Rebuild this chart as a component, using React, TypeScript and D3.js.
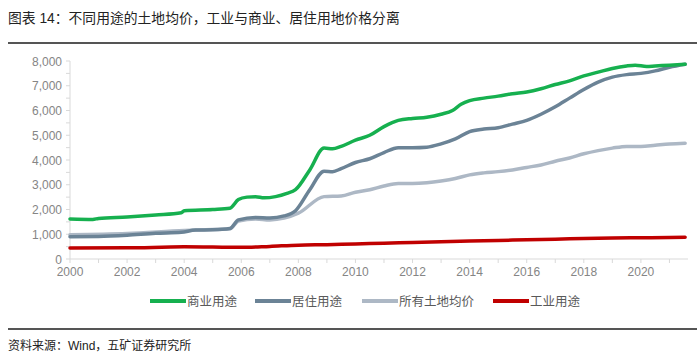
import React from "react";
import * as d3 from "d3";

// 单位：元/平方米，点为 [年份, 价格]
const commercial: [number, number][] = [
  [2000, 1620], [2000.8, 1600], [2001, 1640], [2002, 1700], [2003, 1780], [2003.9, 1870],
  [2004, 1950], [2005, 2000], [2005.6, 2050], [2005.9, 2400], [2006.2, 2500],
  [2006.5, 2520], [2006.8, 2470], [2007.2, 2520], [2007.6, 2650], [2007.9, 2800],
  [2008.4, 3600], [2008.9, 4480], [2009.2, 4450], [2009.5, 4550], [2010, 4800],
  [2010.5, 5000], [2011, 5350], [2011.5, 5600], [2012, 5680], [2012.5, 5730],
  [2013, 5850], [2013.4, 6000], [2013.7, 6250], [2014, 6400], [2014.5, 6500],
  [2015, 6580], [2015.5, 6680], [2016, 6750], [2016.5, 6880], [2017, 7050],
  [2017.5, 7200], [2018, 7400], [2018.5, 7550], [2019, 7700], [2019.5, 7800],
  [2019.8, 7830], [2020.2, 7780], [2020.5, 7800], [2021, 7830], [2021.55, 7870],
];

const residential: [number, number][] = [
  [2000, 900], [2001, 910], [2002, 960], [2003, 1040], [2003.9, 1080], [2004.4, 1170],
  [2005, 1180], [2005.6, 1230], [2005.9, 1580], [2006.5, 1680], [2007, 1660],
  [2007.5, 1740], [2007.9, 1950], [2008.4, 2800], [2008.9, 3550], [2009.2, 3530],
  [2009.5, 3650], [2010, 3900], [2010.5, 4050], [2011, 4300], [2011.5, 4500],
  [2012, 4500], [2012.5, 4520], [2013, 4650], [2013.5, 4850], [2014, 5150],
  [2014.5, 5250], [2015, 5300], [2015.5, 5450], [2016, 5600], [2016.5, 5850],
  [2017, 6150], [2017.5, 6500], [2018, 6850], [2018.5, 7150], [2019, 7350],
  [2019.5, 7450], [2020, 7500], [2020.5, 7600], [2021, 7750], [2021.55, 7870],
];

const allLand: [number, number][] = [
  [2000, 980], [2002, 1030], [2004, 1150], [2005, 1190], [2005.6, 1220],
  [2005.9, 1530], [2006.5, 1620], [2007, 1580], [2007.5, 1650], [2008, 1850],
  [2008.9, 2520], [2009.5, 2550], [2010, 2700], [2010.5, 2800], [2011, 2950],
  [2011.5, 3050], [2012, 3050], [2012.5, 3080], [2013, 3150], [2013.5, 3250],
  [2014, 3400], [2014.5, 3480], [2015, 3530], [2015.5, 3600], [2016, 3700],
  [2016.5, 3800], [2017, 3950], [2017.5, 4080], [2018, 4250], [2018.5, 4380],
  [2019, 4480], [2019.5, 4550], [2020, 4550], [2020.5, 4600], [2021, 4650],
  [2021.55, 4680],
];

const industrial: [number, number][] = [
  [2000, 440], [2002, 450], [2004, 490], [2005, 480], [2006, 470], [2007, 510],
  [2008, 560], [2009, 580], [2010, 610], [2011, 640], [2012, 670], [2013, 700],
  [2014, 730], [2015, 750], [2016, 780], [2017, 800], [2018, 830], [2019, 850],
  [2020, 860], [2021, 870], [2021.55, 880],
];

const seriesNames = ["商业用途", "居住用途", "所有土地均价", "工业用途"];
const seriesColors = ["#16B04F", "#6B8396", "#ADB8C5", "#C00000"];
const yTicks = [0, 1000, 2000, 3000, 4000, 5000, 6000, 7000, 8000];
const xTickLabels = [2000, 2002, 2004, 2006, 2008, 2010, 2012, 2014, 2016, 2018, 2020];

const title = "图表 14：不同用途的土地均价，工业与商业、居住用地价格分离";
const source = "资料来源：Wind，五矿证券研究所";

const W = 700;
const H = 362;
const cjk = "'Liberation Sans', 'Noto Sans CJK SC', sans-serif";

export default function App() {
  const x = d3.scaleLinear().domain([2000, 2021.58]).range([70, 686]);
  const y = d3.scaleLinear().domain([0, 8000]).range([259, 61]);
  const line = d3
    .line<[number, number]>()
    .x((d) => x(d[0]))
    .y((d) => y(d[1]))
    .curve(d3.curveMonotoneX);

  // draw order: grey first, red on top like the original
  const data = [commercial, residential, allLand, industrial];
  const drawOrder = [2, 1, 0, 3];
  const minorY = d3.range(0, 8001, 500);
  const years = d3.range(2000, 2022, 1);

  const legendX = [150, 255, 362, 493];

  return (
    <svg
      width={W}
      height={H}
      style={{ position: "absolute", left: 0, top: 0, background: "#fff" }}
      fontFamily={cjk}
    >
      <text x={8} y={23} fontSize={13.8} fill="#222">
        {title}
      </text>
      <line x1={8} x2={697} y1={43} y2={43} stroke="#555" strokeWidth={2} />

      {/* y axis */}
      <line x1={70} x2={70} y1={y(8000)} y2={y(0)} stroke="#D9D9D9" />
      {minorY.map((v) => (
        <line key={v} x1={66} x2={70} y1={y(v)} y2={y(v)} stroke="#D9D9D9" />
      ))}
      {yTicks.map((v) => (
        <text
          key={v}
          x={62}
          y={y(v) + 4.5}
          textAnchor="end"
          fontSize={12}
          fill="#858585"
        >
          {d3.format(",")(v)}
        </text>
      ))}

      {/* x axis */}
      <line x1={70} x2={688} y1={259} y2={259} stroke="#D9D9D9" />
      {years.map((t) => (
        <line key={t} x1={x(t)} x2={x(t)} y1={259} y2={263} stroke="#D9D9D9" />
      ))}
      {xTickLabels.map((t) => (
        <text key={t} x={x(t)} y={276} textAnchor="middle" fontSize={12} fill="#858585">
          {t}
        </text>
      ))}

      {drawOrder.map((i) => (
        <path
          key={i}
          d={line(data[i]) || ""}
          fill="none"
          stroke={seriesColors[i]}
          strokeWidth={3.5}
          strokeLinejoin="round"
          strokeLinecap="round"
        />
      ))}

      {/* legend */}
      {seriesNames.map((name, i) => (
        <g key={name} transform={`translate(${legendX[i]},301)`}>
          <line x1={0} x2={36} y1={0} y2={0} stroke={seriesColors[i]} strokeWidth={4} />
          <text x={37} y={4.5} fontSize={12.5} fill="#595959">
            {name}
          </text>
        </g>
      ))}

      <line x1={8} x2={697} y1={329} y2={329} stroke="#555" strokeWidth={2} />
      <text x={8} y={350} fontSize={12} fill="#222">
        {source}
      </text>
    </svg>
  );
}
